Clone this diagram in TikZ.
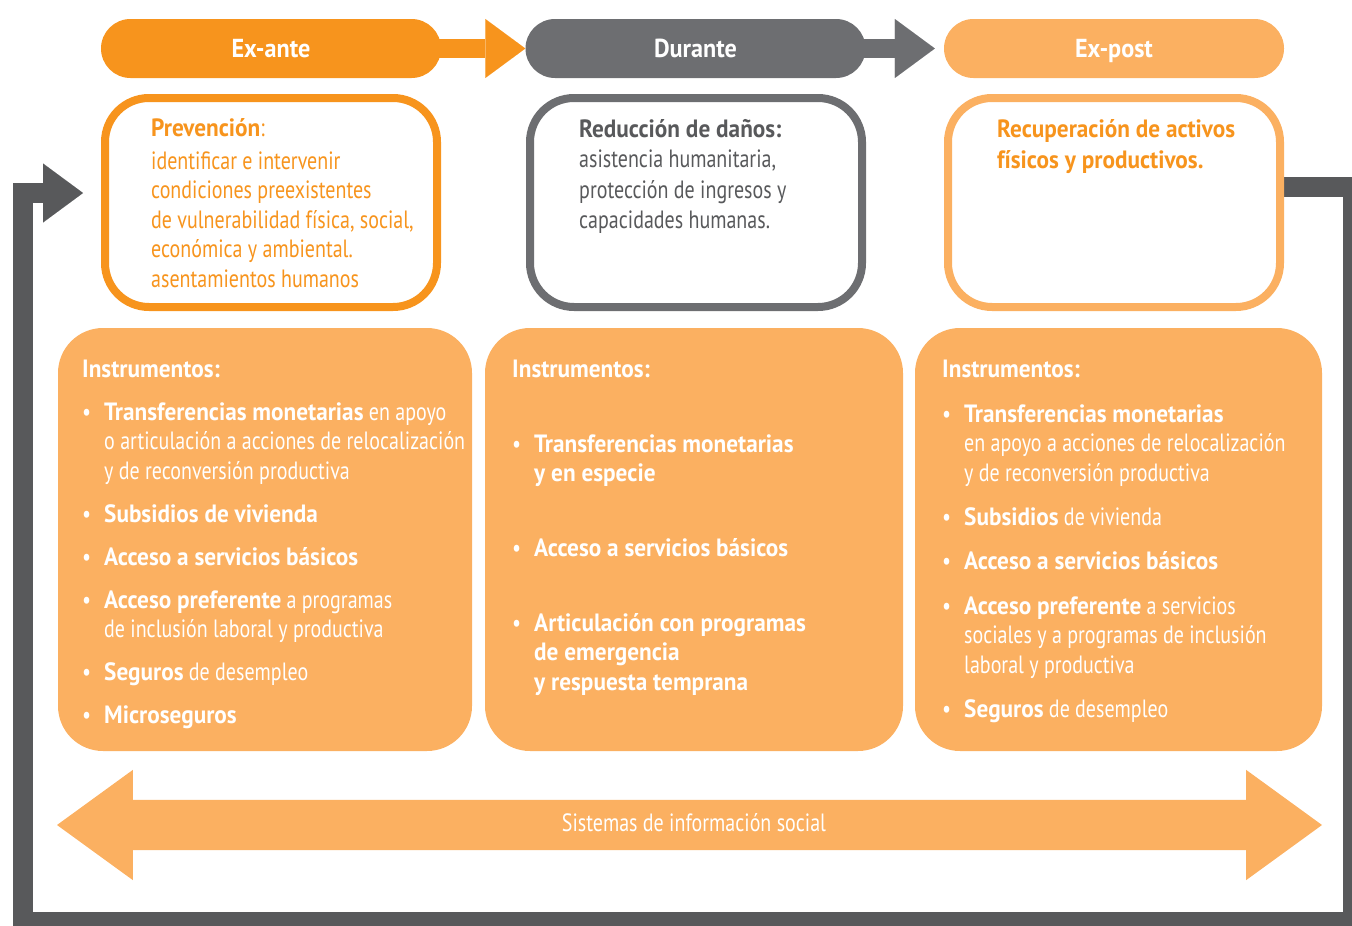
\documentclass[tikz,border=0pt]{standalone}
\usepackage{fontspec}
\setmainfont[FakeStretch=0.8,BoldFeatures={FakeStretch=0.93}]{PT Sans}
\usetikzlibrary{arrows.meta,positioning,shapes.arrows,backgrounds}
\definecolor{Orange}{HTML}{F7941D}
\definecolor{Light}{HTML}{FBB061}
\definecolor{Slate}{HTML}{6D6E71}
\definecolor{Loop}{HTML}{58595B}
\tikzset{
  pill/.style={rectangle,rounded corners=29.5pt,minimum width=340pt,minimum height=59pt,inner sep=0pt,text height=23pt,text depth=5pt,text=white,font=\fontsize{26}{30}\selectfont\bfseries},
  phase/.style={rectangle,rounded corners=44pt,line width=8pt,fill=white,minimum width=332pt,minimum height=209pt},
  inst/.style={rectangle,rounded corners=45pt,fill=Light,minimum height=423pt},
  txt/.style={anchor=base west,inner sep=0pt,align=flush left,text width=400pt,font=\fontsize{25}{29.5}\selectfont},
  item/.style={anchor=base west,inner sep=0pt,text=white,font=\fontsize{25}{29.5}\selectfont},
  flow/.style={line width=19pt,-{Triangle[length=40pt,width=59pt,line width=0.01pt]}},
  loopline/.style={draw=Loop,line width=20pt,line join=miter,-{Triangle[length=40pt,width=59pt,line width=0.01pt]}}
}
\newcommand{\itm}[1]{\makebox[22pt][l]{\textbullet}\parbox[t]{380pt}{\raggedright #1}}

\begin{document}
\begin{tikzpicture}[x=1pt,y=-1pt]
  \useasboundingbox (0,0) rectangle (1352,926);
  % phases
  \node[pill,fill=Orange] (exante) at (271,48.5) {Ex-ante};
  \node[pill,fill=Slate] (durante) at (695.5,48.5) {Durante};
  \node[pill,fill=Light] (expost) at (1114,48.5) {Ex-post};
  \node[phase,draw=Orange] (prevbox) at (271,202.5) {};
  \node[phase,draw=Slate] (redbox) at (696,202.5) {};
  \node[phase,draw=Light] (recbox) at (1114,202.5) {};
  \node[inst,minimum width=414pt] (instA) at (265,539.5) {};
  \node[inst,minimum width=418pt] (instB) at (694,539.5) {};
  \node[inst,minimum width=407pt] (instC) at (1118.5,539.5) {};
  \node[double arrow,fill=Light,minimum height=1265pt,double arrow head extend=30pt,double arrow tip angle=72,
        inner xsep=0pt,inner ysep=13pt,text height=18pt,text depth=6pt,text=white,font=\fontsize{25}{29.5}\selectfont]
        (info) at (689.5,825) {\hspace*{9pt}Sistemas de información social};
  \begin{scope}[on background layer]
    \draw[flow,Orange] ([xshift=-20pt]exante.east) -- (durante.west);
    \draw[flow,Slate] ([xshift=-20pt]durante.east) -- ([xshift=-9pt]expost.west);
    \coordinate (c1) at (1353,187);
    \coordinate (c2) at (1353,922);
    \coordinate (c3) at (22.5,922);
    \coordinate (c4) at (22.5,193);
    \draw[loopline] ([yshift=15.5pt]recbox.east) -- (c1) -- (c2) -- (c3) -- (c4) -- ([xshift=-18pt,yshift=9.5pt]prevbox.west);
  \end{scope}
  % phase texts
  \node[txt,text=Orange] (prevtxt) at (151,136.5) {\textbf{Prevención}:\\[3pt]identificar e intervenir\\condiciones preexistentes\\de vulnerabilidad física, social,\\económica y ambiental.\\asentamientos humanos};
  \node[txt,text=Loop] (redtxt) at (579,137) {\textbf{Reducción de daños:}\\[1pt]asistencia humanitaria,\\[1pt]protección de ingresos y\\[1pt]capacidades humanas.};
  \node[txt,text=Orange,font=\fontsize{25}{31}\selectfont\bfseries] (rectxt) at (997,137) {Recuperación de activos\\físicos y productivos.};
  % instruments, left
  \node[item] (hA) at (82,377) {\textbf{Instrumentos:}};
  \node[item] (a1) at (82,420) {\itm{\textbf{Transferencias monetarias} en apoyo\\o articulación a acciones de relocalización\\y de reconversión productiva}};
  \node[item] (a2) at (82,522) {\itm{\textbf{Subsidios de vivienda}}};
  \node[item] (a3) at (82,565) {\itm{\textbf{Acceso a servicios básicos}}};
  \node[item] (a4) at (82,608) {\itm{\textbf{Acceso preferente} a programas\\de inclusión laboral y productiva}};
  \node[item] (a5) at (82,680) {\itm{\textbf{Seguros} de desempleo}};
  \node[item] (a6) at (82,723) {\itm{\textbf{Microseguros}}};
  % instruments, middle
  \node[item] (hB) at (512,377) {\textbf{Instrumentos:}};
  \node[item] (b1) at (512,452) {\itm{\textbf{Transferencias monetarias}\\\textbf{y en especie}}};
  \node[item] (b2) at (512,556) {\itm{\textbf{Acceso a servicios básicos}}};
  \node[item] (b3) at (512,631) {\itm{\textbf{Articulación con programas}\\\textbf{de emergencia}\\\textbf{y respuesta temprana}}};
  % instruments, right
  \node[item] (hC) at (942,377) {\textbf{Instrumentos:}};
  \node[item] (c1t) at (942,422) {\itm{\textbf{Transferencias monetarias}\\en apoyo a acciones de relocalización\\y de reconversión productiva}};
  \node[item] (c2t) at (942,525) {\itm{\textbf{Subsidios} de vivienda}};
  \node[item] (c3t) at (942,569) {\itm{\textbf{Acceso a servicios básicos}}};
  \node[item] (c4t) at (942,614) {\itm{\textbf{Acceso preferente} a servicios\\sociales y a programas de inclusión\\laboral y productiva}};
  \node[item] (c5t) at (942,717) {\itm{\textbf{Seguros} de desempleo}};
\end{tikzpicture}
\end{document}
